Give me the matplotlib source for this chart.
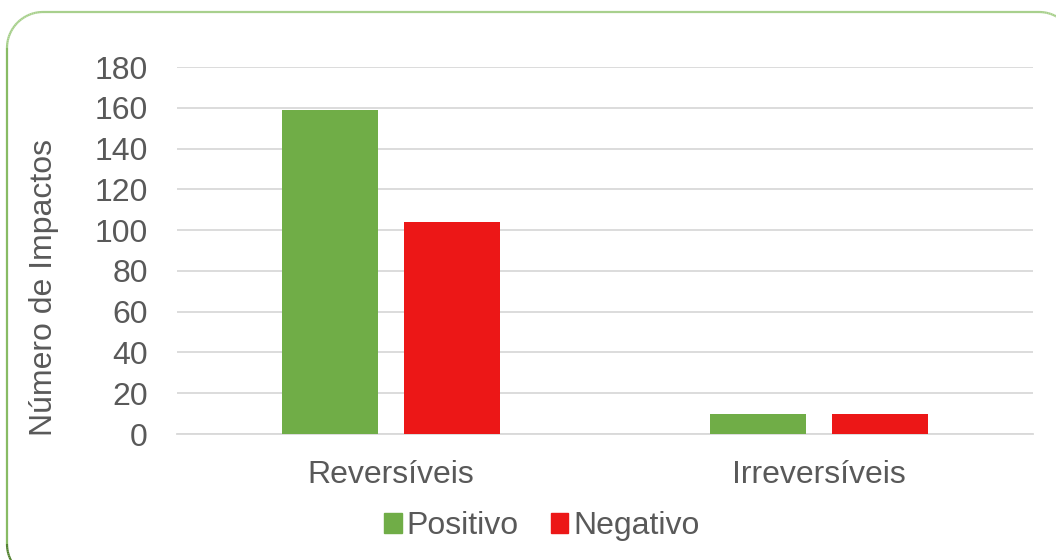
import matplotlib.pyplot as plt
from matplotlib.patches import Patch
from matplotlib.collections import LineCollection
from matplotlib.colors import LinearSegmentedColormap
from matplotlib.transforms import IdentityTransform
import numpy as np

plt.rcParams['font.family'] = ['Liberation Sans', 'DejaVu Sans']

categories = ['Reversíveis', 'Irreversíveis']
positivo = [159, 10]
negativo = [104, 10]
series_names = ['Positivo', 'Negativo']
colors = ['#70ad47', '#ec1717']
text_color = '#595959'

fig = plt.figure(figsize=(10.56, 5.6), dpi=100)
ax = fig.add_axes([0.1676, 0.225, 0.8106, 0.655])

x = np.arange(len(categories))
width = 0.224
offset = 0.1425
ax.bar(x - offset, positivo, width, color=colors[0], label=series_names[0], zorder=3)
ax.bar(x + offset, negativo, width, color=colors[1], label=series_names[1], zorder=3)

ax.set_xlim(-0.5, len(categories) - 0.5)
ax.set_ylim(0, 180)
ax.set_yticks(range(0, 181, 20))
ax.set_xticks(x)
ax.set_xticklabels(categories)
ax.yaxis.grid(True, color='#d9d9d9', lw=1.3, zorder=0)
ax.tick_params(length=0, labelsize=23, colors=text_color)
ax.tick_params(axis='y', pad=21)
ax.tick_params(axis='x', pad=19)
for s in ['top', 'right', 'left']:
    ax.spines[s].set_visible(False)
ax.spines['bottom'].set_color('#d9d9d9')
ax.spines['bottom'].set_linewidth(1.3)
ax.set_ylabel('Número de Impactos', fontsize=23, color=text_color, labelpad=16)
ax.yaxis.set_label_coords(-0.138, 0.40)

handles = [Patch(color=c, label=n) for c, n in zip(colors, series_names)]
fig.legend(handles=handles, loc='center', bbox_to_anchor=(0.513, 0.06), ncol=2,
           frameon=False, fontsize=23, labelcolor=text_color,
           handlelength=0.55, handleheight=0.55, handletextpad=0.15, columnspacing=1.0)

# rounded outer border (pixel coords, extends past the right/bottom edges),
# coloured with a light-to-dark green gradient from top to bottom
x0, x1, y_top, y_bot, r = 7, 1075, 548, -20, 36
pts = []
for cx, cy, a0 in [(x0 + r, y_top - r, 90), (x0 + r, y_bot + r, 180),
                   (x1 - r, y_bot + r, 270), (x1 - r, y_top - r, 0)]:
    t = np.radians(np.linspace(a0, a0 + 90, 30))
    pts.append(np.column_stack([cx + r * np.cos(t), cy + r * np.sin(t)]))
pts = np.vstack(pts + [pts[0][:1]])
segs = np.stack([pts[:-1], pts[1:]], axis=1)
ymid = segs[:, :, 1].mean(axis=1)
cmap = LinearSegmentedColormap.from_list('edge', ['#4f7f2c', '#8cbf68', '#a9d18e'])
border = LineCollection(segs, cmap=cmap, linewidths=1.6, transform=IdentityTransform())
border.set_array(ymid / 560)
border.set_clim(0, 1)
fig.add_artist(border)

fig.savefig('out.png', dpi=100)
